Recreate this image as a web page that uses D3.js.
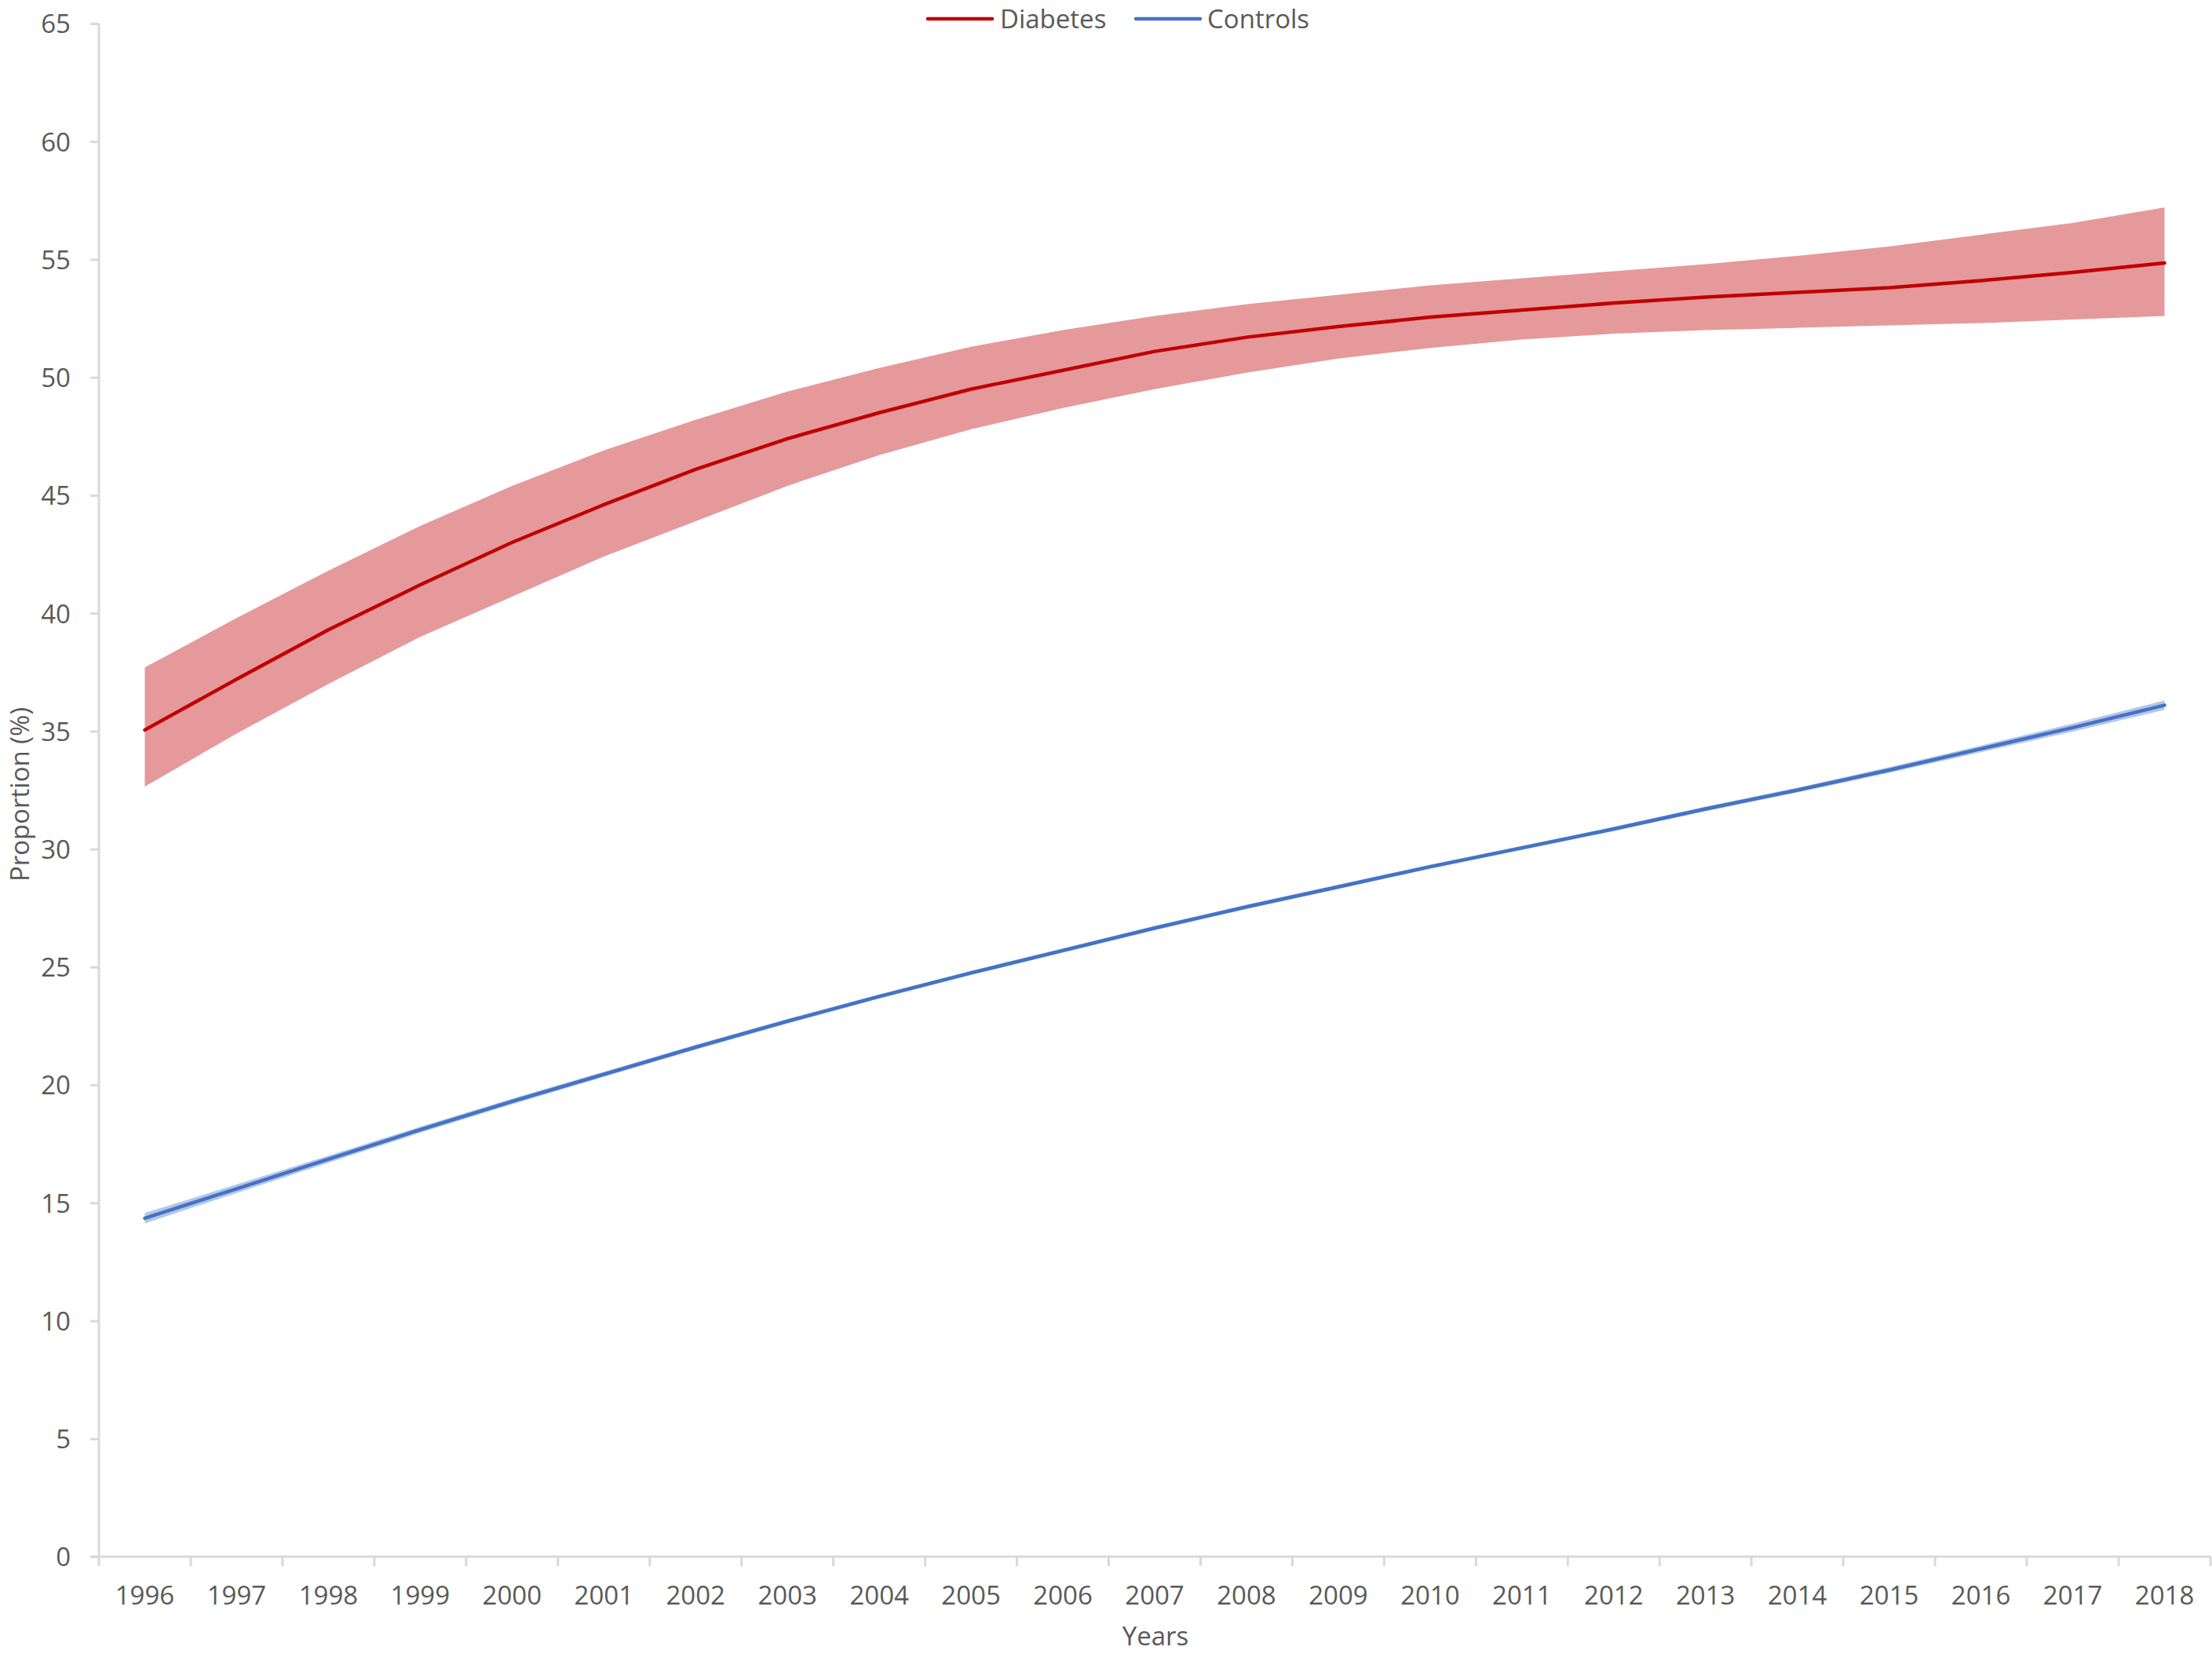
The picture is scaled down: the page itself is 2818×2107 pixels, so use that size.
<!DOCTYPE html>
<html>
<head>
<meta charset="utf-8">
<script src="https://cdn.jsdelivr.net/npm/d3@7"></script>
<style>
  html, body { margin: 0; padding: 0; background: #fff; }
  svg { display: block; }
  text { font-family: "Open Sans", "Noto Sans", sans-serif; fill: #595959; }
</style>
</head>
<body>
<svg id="chart" width="2818" height="2107"></svg>
<script>
const years = ["1996","1997","1998","1999","2000","2001","2002","2003","2004","2005","2006","2007","2008","2009","2010","2011","2012","2013","2014","2015","2016","2017","2018"];

const diabetesMean  = [35.05,37.2,39.3,41.2,43.0,44.6,46.1,47.4,48.5,49.5,50.3,51.1,51.7,52.15,52.55,52.85,53.15,53.4,53.6,53.8,54.1,54.45,54.85];
const diabetesUpper = [37.7,39.8,41.8,43.7,45.4,46.9,48.2,49.4,50.4,51.3,52.0,52.6,53.1,53.5,53.9,54.2,54.5,54.8,55.15,55.55,56.05,56.55,57.2];
const diabetesLower = [32.65,34.9,37.0,39.0,40.7,42.4,43.9,45.4,46.7,47.8,48.7,49.5,50.2,50.8,51.25,51.6,51.85,52.0,52.1,52.2,52.3,52.45,52.6];

const controlsMean  = [14.35,15.6,16.85,18.1,19.3,20.45,21.6,22.7,23.75,24.75,25.7,26.65,27.55,28.4,29.25,30.05,30.85,31.7,32.5,33.35,34.25,35.15,36.1];
const controlsUpper = [14.57,15.78,17.0,18.23,19.42,20.56,21.7,22.8,23.84,24.84,25.79,26.74,27.64,28.49,29.34,30.14,30.94,31.8,32.6,33.47,34.39,35.32,36.3];
const controlsLower = [14.13,15.42,16.7,17.97,19.18,20.34,21.5,22.6,23.66,24.66,25.61,26.56,27.46,28.31,29.16,29.96,30.76,31.6,32.4,33.23,34.11,34.98,35.9];

const yTicks = [0,5,10,15,20,25,30,35,40,45,50,55,60,65];

const seriesNames = ["Diabetes", "Controls"];
const lineColors = ["#C00000", "#4472C4"];
const bandColors = ["#E6999A", "#B4C7E7"];

(function () {
const svg = d3.select("#chart");
const pLeft = 126, pRight = 2816, pTop = 30, pBottom = 1983;
const fontSize = 33;

const x = d3.scaleBand().domain(years).range([pLeft, pRight]).paddingInner(0).paddingOuter(0);
const y = d3.scaleLinear().domain([0, 65]).range([pBottom, pTop]);
const cx = d => x(d) + x.bandwidth() / 2;

const series = [
  { name: seriesNames[0], mean: diabetesMean, lo: diabetesLower, hi: diabetesUpper, line: lineColors[0], band: bandColors[0] },
  { name: seriesNames[1], mean: controlsMean, lo: controlsLower, hi: controlsUpper, line: lineColors[1], band: bandColors[1] }
];

const area = d3.area().x(d => cx(d.year)).y0(d => y(d.lo)).y1(d => y(d.hi));
const line = d3.line().x(d => cx(d.year)).y(d => y(d.v));

series.forEach(s => {
  const pts = years.map((yr, i) => ({ year: yr, lo: s.lo[i], hi: s.hi[i] }));
  svg.append("path").datum(pts).attr("d", area).attr("fill", s.band).attr("stroke", "none");
});
series.forEach(s => {
  const pts = years.map((yr, i) => ({ year: yr, v: s.mean[i] }));
  svg.append("path").datum(pts).attr("d", line)
    .attr("fill", "none").attr("stroke", s.line).attr("stroke-width", 4.5)
    .attr("stroke-linejoin", "round").attr("stroke-linecap", "round");
});

// Y axis
const yAxis = d3.axisLeft(y).tickValues(yTicks).tickSize(11).tickPadding(25).tickFormat(d3.format("d"));
const gy = svg.append("g").attr("transform", `translate(${pLeft},0)`).call(yAxis);
gy.select(".domain").remove();
gy.selectAll(".tick line").attr("stroke", "#D9D9D9").attr("stroke-width", 3);
gy.selectAll(".tick text").attr("font-size", fontSize).style("fill", "#595959")
  .attr("font-family", '"Open Sans", sans-serif').attr("dy", "0.36em");
svg.append("line").attr("x1", pLeft).attr("x2", pLeft).attr("y1", y(65)).attr("y2", y(0))
  .attr("stroke", "#D9D9D9").attr("stroke-width", 3);

// X axis
const xAxis = d3.axisBottom(x).tickSize(0).tickPadding(0);
const gx = svg.append("g").attr("transform", `translate(0,${pBottom})`).call(xAxis);
gx.select(".domain").remove();
gx.selectAll(".tick text").attr("font-size", fontSize).style("fill", "#595959")
  .attr("font-family", '"Open Sans", sans-serif').attr("dy", null).attr("y", 61);
svg.append("line").attr("x1", pLeft - 11).attr("x2", pRight).attr("y1", pBottom).attr("y2", pBottom)
  .attr("stroke", "#D9D9D9").attr("stroke-width", 3);
const boundaries = years.map(d => x(d)).concat([x(years[years.length - 1]) + x.bandwidth()]);
svg.append("g").selectAll("line").data(boundaries).join("line")
  .attr("x1", d => d).attr("x2", d => d).attr("y1", pBottom).attr("y2", pBottom + 12)
  .attr("stroke", "#D9D9D9").attr("stroke-width", 3);

// Axis titles
svg.append("text").attr("x", 1472).attr("y", 2096).attr("text-anchor", "middle")
  .attr("font-size", fontSize).text("Years");
svg.append("text").attr("transform", "translate(37,1012) rotate(-90)").attr("text-anchor", "middle")
  .attr("font-size", fontSize).text("Proportion (%)");

// Legend
const legendItems = [
  { name: seriesNames[0], color: lineColors[0], x0: 1182, tx: 1274 },
  { name: seriesNames[1], color: lineColors[1], x0: 1447, tx: 1538 }
];
legendItems.forEach(it => {
  svg.append("line").attr("x1", it.x0).attr("x2", it.x0 + 82).attr("y1", 24).attr("y2", 24)
    .attr("stroke", it.color).attr("stroke-width", 4.5).attr("stroke-linecap", "round");
  svg.append("text").attr("x", it.tx).attr("y", 36).attr("font-size", fontSize).text(it.name);
});
})();
</script>
</body>
</html>
